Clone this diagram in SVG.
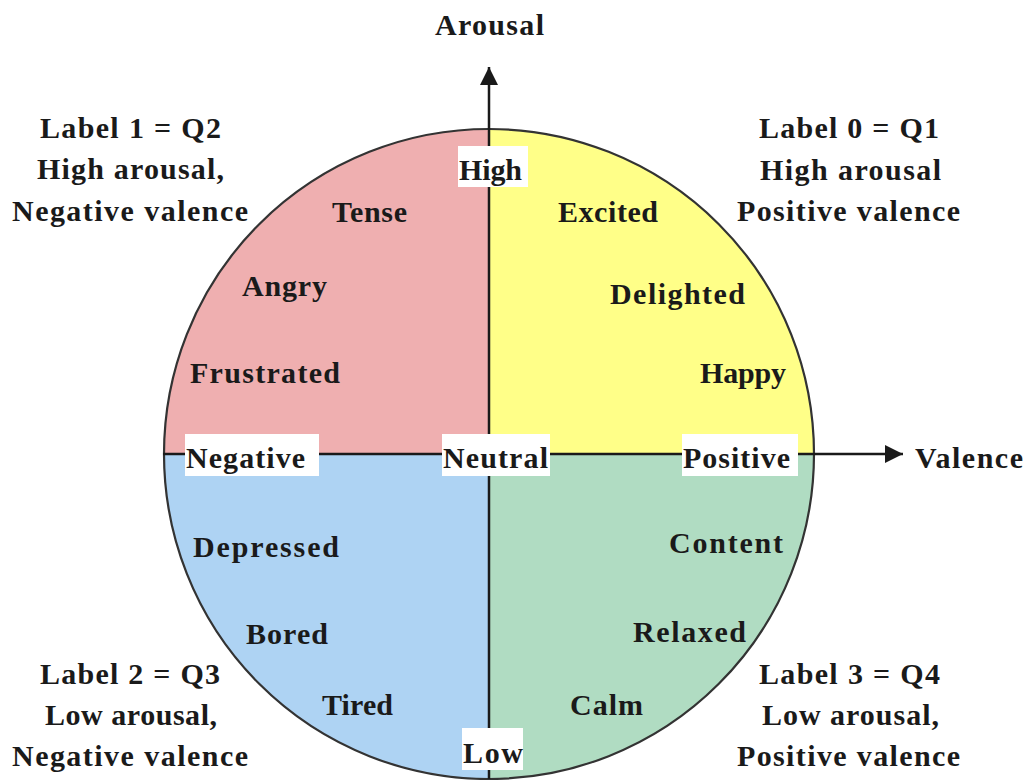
<svg xmlns="http://www.w3.org/2000/svg" width="1026" height="780" viewBox="0 0 1026 780">
<style>
text{font-family:"Liberation Serif","Times New Roman",serif;font-weight:bold;font-size:30px;fill:#1a1a1a}
.box{fill:#ffffff}
.ax{stroke:#1a1a1a;stroke-width:2.5;fill:none}
.q{stroke:none}
</style>
<defs>
<marker id="arr" viewBox="0 0 10 10" refX="10" refY="5" markerWidth="18" markerHeight="18" markerUnits="userSpaceOnUse" orient="auto">
<path d="M0,0 L10,5 L0,10 Z" fill="#1a1a1a"/>
</marker>
</defs>
<rect width="1026" height="780" fill="#ffffff"/>
<g id="quadrants">
<path class="q" d="M489,454 L489,129 A325,325 0 0 1 814,454 Z" fill="#FFFF88"/>
<path class="q" d="M489,454 L489,129 A325,325 0 0 0 164,454 Z" fill="#EFAFB0"/>
<path class="q" d="M489,454 L164,454 A325,325 0 0 0 489,779 Z" fill="#AED3F3"/>
<path class="q" d="M489,454 L489,779 A325,325 0 0 0 814,454 Z" fill="#B0DCC2"/>
<circle cx="489" cy="454" r="325" fill="none" stroke="#333333" stroke-width="2.2"/>
</g>
<g id="connectors">
<line class="ax" x1="489" y1="779" x2="489" y2="67" marker-end="url(#arr)"/>
<line class="ax" x1="163" y1="454" x2="903" y2="454" marker-end="url(#arr)"/>
</g>
<g id="axis-labels">
<text x="435" y="35" textLength="109" lengthAdjust="spacing">Arousal</text>
<text x="915" y="468" textLength="108" lengthAdjust="spacing">Valence</text>
</g>
<g id="high"><rect class="box" x="458" y="146" width="70" height="41"/><text x="459" y="180" textLength="63" lengthAdjust="spacing">High</text></g>
<g id="low"><rect class="box" x="462" y="728" width="61" height="42"/><text x="463" y="763" textLength="60" lengthAdjust="spacing">Low</text></g>
<g id="negative"><rect class="box" x="185" y="434" width="134" height="42"/><text x="186" y="468" textLength="119" lengthAdjust="spacing">Negative</text></g>
<g id="neutral"><rect class="box" x="442" y="434" width="108" height="42"/><text x="443" y="468" textLength="105" lengthAdjust="spacing">Neutral</text></g>
<g id="positive"><rect class="box" x="682" y="434" width="116" height="42"/><text x="683" y="468" textLength="107" lengthAdjust="spacing">Positive</text></g>
<g id="q1-label">
<text x="759" y="138" textLength="180" lengthAdjust="spacing">Label 0 = Q1</text>
<text x="760" y="180" textLength="181" lengthAdjust="spacing">High arousal</text>
<text x="737" y="221" textLength="223" lengthAdjust="spacing">Positive valence</text>
</g>
<g id="q2-label">
<text x="40" y="138" textLength="181" lengthAdjust="spacing">Label 1 = Q2</text>
<text x="37" y="179" textLength="187" lengthAdjust="spacing">High arousal,</text>
<text x="12" y="221" textLength="236" lengthAdjust="spacing">Negative valence</text>
</g>
<g id="q3-label">
<text x="40" y="684" textLength="180" lengthAdjust="spacing">Label 2 = Q3</text>
<text x="45" y="725" textLength="172" lengthAdjust="spacing">Low arousal,</text>
<text x="12" y="766" textLength="236" lengthAdjust="spacing">Negative valence</text>
</g>
<g id="q4-label">
<text x="759" y="684" textLength="181" lengthAdjust="spacing">Label 3 = Q4</text>
<text x="762" y="725" textLength="177" lengthAdjust="spacing">Low arousal,</text>
<text x="737" y="766" textLength="223" lengthAdjust="spacing">Positive valence</text>
</g>
<g id="emotions">
<text id="tense" x="332" y="222" textLength="75" lengthAdjust="spacing">Tense</text>
<text id="angry" x="242" y="296" textLength="85" lengthAdjust="spacing">Angry</text>
<text id="frustrated" x="190" y="383" textLength="150" lengthAdjust="spacing">Frustrated</text>
<text id="excited" x="558" y="222" textLength="100" lengthAdjust="spacing">Excited</text>
<text id="delighted" x="610" y="304" textLength="135" lengthAdjust="spacing">Delighted</text>
<text id="happy" x="700" y="383" textLength="86" lengthAdjust="spacing">Happy</text>
<text id="depressed" x="193" y="557" textLength="146" lengthAdjust="spacing">Depressed</text>
<text id="bored" x="246" y="644" textLength="82" lengthAdjust="spacing">Bored</text>
<text id="tired" x="322" y="715" textLength="71" lengthAdjust="spacing">Tired</text>
<text id="content" x="669" y="553" textLength="114" lengthAdjust="spacing">Content</text>
<text id="relaxed" x="633" y="642" textLength="113" lengthAdjust="spacing">Relaxed</text>
<text id="calm" x="570" y="715" textLength="73" lengthAdjust="spacing">Calm</text>
</g>
</svg>
